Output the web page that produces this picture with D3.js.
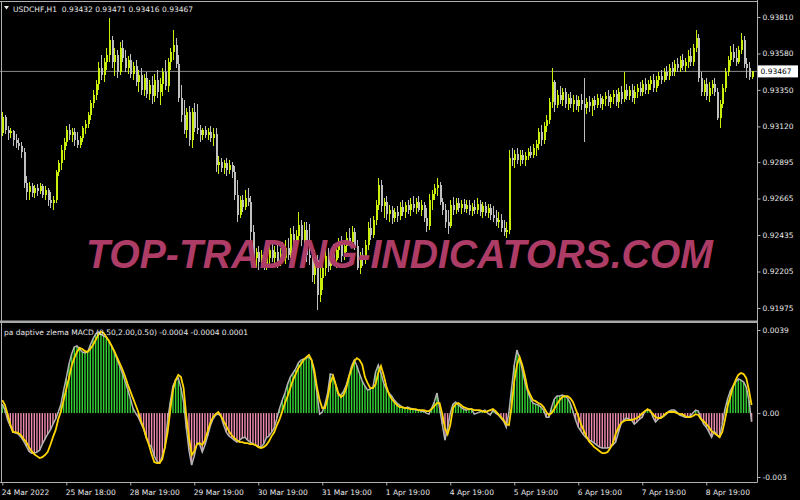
<!DOCTYPE html>
<html>
<head>
<meta charset="utf-8">
<script src="https://cdn.jsdelivr.net/npm/d3@7"></script>
<style>
html, body { margin: 0; padding: 0; background: #000; }
svg { display: block; }
text { font-family: "DejaVu Sans", sans-serif; }
</style>
</head>
<body>
<svg id="chart" width="800" height="500"></svg>
<script>
// USDCHF H1 candles, prices in points (price x 100000)
var opens = [
93078,93180,93097,93078,93091,93034,93015,92996,92958,92763,
92706,92744,92700,92732,92713,92744,92687,92719,92656,92637,
92656,92832,92889,92971,93021,93097,93065,93084,93034,93002,
93047,93110,93135,93192,93268,93318,93388,93489,93444,93526,
93570,93665,93526,93570,93463,93615,93552,93489,93539,93451,
93501,93400,93444,93350,93426,93325,93381,93312,93413,93337,
93388,93463,93375,93526,93589,93633,93514,93300,93192,93097,
93211,93034,93211,93110,93097,93065,93097,93065,93084,93047,
93072,92876,92895,92858,92889,92845,92876,92832,92687,92561,
92656,92612,92669,92643,92454,92290,92328,92265,92309,92252,
92290,92341,92290,92328,92265,92316,92290,92354,92309,92442,
92366,92429,92498,92404,92467,92309,92290,92183,92278,92057,
92164,92228,92303,92240,92316,92278,92341,92379,92303,92366,
92417,92391,92454,92366,92228,92309,92278,92372,92480,92435,
92530,92624,92750,92618,92643,92568,92593,92542,92580,92555,
92612,92580,92624,92593,92631,92606,92643,92593,92624,92542,
92492,92656,92694,92732,92750,92643,92593,92517,92492,92624,
92593,92637,92606,92631,92599,92624,92587,92612,92593,92631,
92580,92618,92574,92606,92561,92542,92517,92530,92480,92454,
92467,92921,92908,92946,92908,92939,92908,92933,92958,92939,
92984,93009,93084,93034,93122,93160,93274,93400,93255,93318,
93287,93337,93262,93300,93262,93287,93249,93287,93262,93237,
93274,93249,93287,93255,93300,93262,93293,93312,93274,93306,
93325,93274,93337,93293,93350,93312,93350,93300,93337,93362,
93337,93388,93350,93388,93413,93362,93413,93438,93413,93463,
93438,93489,93463,93514,93489,93539,93501,93526,93564,93526,
93615,93678,93426,93337,93388,93312,93362,93388,93337,93173,
93262,93362,93463,93539,93589,93552,93526,93602,93665,93514,
93489,93432];
var highs = [
93211,93192,93122,93110,93097,93072,93047,93021,92984,92807,
92769,92763,92750,92757,92763,92757,92744,92732,92706,92681,
92845,92908,93002,93047,93122,93135,93110,93110,93084,93059,
93122,93160,93211,93287,93350,93413,93526,93570,93552,93615,
93804,93690,93615,93602,93652,93665,93602,93564,93577,93526,
93539,93476,93489,93451,93463,93413,93438,93451,93476,93426,
93489,93539,93552,93615,93728,93678,93570,93381,93287,93237,
93249,93237,93268,93262,93129,93110,93122,93110,93122,93110,
93110,92933,92921,92908,92921,92908,92895,92870,92782,92681,
92687,92719,92732,92681,92498,92353,92366,92341,92353,92328,
92366,92379,92366,92372,92354,92391,92404,92417,92480,92492,
92467,92580,92530,92517,92517,92505,92372,92341,92309,92227,
92265,92341,92354,92341,92379,92366,92417,92429,92404,92454,
92480,92492,92480,92404,92328,92354,92404,92517,92542,92555,
92656,92795,92782,92669,92681,92624,92618,92606,92618,92643,
92656,92643,92656,92669,92681,92669,92681,92656,92643,92606,
92694,92719,92757,92795,92769,92669,92631,92593,92656,92675,
92669,92669,92656,92662,92656,92656,92637,92656,92669,92656,
92643,92643,92631,92631,92618,92593,92580,92568,92530,92517,
92971,92984,92971,92984,92971,92971,92958,92984,92996,93009,
93034,93110,93129,93147,93192,93300,93489,93413,93350,93375,
93362,93362,93325,93337,93318,93318,93312,93325,93426,93300,
93312,93300,93312,93325,93325,93312,93337,93350,93325,93350,
93350,93362,93375,93463,93388,93375,93388,93375,93388,93400,
93413,93426,93413,93438,93451,93438,93463,93476,93489,93501,
93514,93526,93539,93552,93564,93577,93552,93602,93615,93640,
93728,93703,93463,93413,93426,93400,93413,93426,93362,93287,
93388,93489,93564,93627,93640,93615,93627,93709,93690,93552,
93526,93471];
var lows = [
93059,93072,93034,93047,92996,92984,92971,92921,92732,92656,
92656,92675,92669,92681,92694,92669,92656,92618,92606,92593,
92637,92807,92845,92908,92996,93034,93021,92996,92984,92984,
93021,93072,93110,93160,93237,93287,93350,93413,93400,93476,
93526,93489,93438,93426,93444,93526,93463,93451,93426,93413,
93375,93337,93318,93312,93300,93287,93262,93274,93300,93255,
93312,93350,93337,93476,93539,93489,93274,93147,93072,93047,
92996,92984,93084,93072,93021,93034,93047,93034,93021,92996,
92832,92820,92832,92820,92807,92820,92795,92656,92517,92542,
92580,92593,92618,92404,92246,92227,92215,92227,92215,92215,
92240,92265,92253,92227,92240,92265,92253,92278,92290,92328,
92341,92404,92366,92354,92265,92246,92139,92127,91962,92013,
92089,92177,92202,92215,92253,92228,92290,92265,92278,92328,
92366,92354,92341,92215,92190,92240,92253,92341,92404,92417,
92498,92593,92580,92542,92530,92517,92505,92517,92517,92530,
92555,92542,92568,92555,92580,92568,92580,92555,92517,92454,
92467,92593,92656,92681,92624,92561,92480,92442,92480,92561,
92568,92580,92568,92580,92574,92561,92555,92568,92568,92555,
92542,92555,92542,92530,92517,92492,92480,92454,92429,92417,
92442,92870,92858,92883,92870,92883,92870,92908,92921,92921,
92933,92971,92996,93009,93084,93135,93237,93211,93237,93262,
93249,93237,93224,93237,93211,93224,93211,93224,93021,93199,
93211,93186,93224,93237,93237,93224,93249,93249,93237,93262,
93249,93237,93262,93274,93287,93287,93274,93262,93300,93312,
93312,93325,93325,93350,93337,93337,93375,93388,93400,93413,
93413,93438,93438,93463,93463,93476,93463,93489,93501,93501,
93589,93400,93312,93312,93287,93274,93325,93312,93160,93110,
93237,93337,93438,93501,93526,93501,93514,93577,93489,93426,
93413,93416];
var closes = [
93180,93097,93078,93091,93034,93015,92996,92958,92763,92706,
92744,92700,92732,92713,92744,92687,92719,92656,92637,92656,
92832,92889,92971,93021,93097,93065,93084,93034,93002,93047,
93110,93135,93192,93268,93318,93388,93489,93444,93526,93570,
93665,93526,93570,93463,93615,93552,93489,93539,93451,93501,
93400,93444,93350,93426,93325,93381,93312,93413,93337,93388,
93463,93375,93526,93589,93633,93514,93300,93192,93097,93211,
93034,93211,93110,93097,93065,93097,93065,93084,93047,93072,
92876,92895,92858,92889,92845,92876,92832,92687,92561,92656,
92612,92669,92643,92454,92290,92328,92265,92309,92252,92290,
92341,92290,92328,92265,92316,92290,92354,92309,92442,92366,
92429,92498,92404,92467,92309,92290,92183,92278,92057,92164,
92228,92303,92240,92316,92278,92341,92379,92303,92366,92417,
92391,92454,92366,92228,92309,92278,92372,92480,92435,92530,
92624,92750,92618,92643,92568,92593,92542,92580,92555,92612,
92580,92624,92593,92631,92606,92643,92593,92624,92542,92492,
92656,92694,92732,92750,92643,92593,92517,92492,92624,92593,
92637,92606,92631,92599,92624,92587,92612,92593,92631,92580,
92618,92574,92606,92561,92542,92517,92530,92480,92454,92467,
92921,92908,92946,92908,92939,92908,92933,92958,92939,92984,
93009,93084,93034,93122,93160,93274,93400,93255,93318,93287,
93337,93262,93300,93262,93287,93249,93287,93262,93237,93274,
93249,93287,93255,93300,93262,93293,93312,93274,93306,93325,
93274,93337,93293,93350,93312,93350,93300,93337,93362,93337,
93388,93350,93388,93413,93362,93413,93438,93413,93463,93438,
93489,93463,93514,93489,93539,93501,93526,93564,93526,93615,
93678,93426,93337,93388,93312,93362,93388,93337,93173,93262,
93362,93463,93539,93589,93552,93526,93602,93665,93514,93489,
93432,93467];

// adaptive zlema MACD, values x 0.0001
var macdMain = [
4.2,1.4,-3.3,-6.1,-8.9,-9.4,-9.9,-11.3,-13.2,-15.5,
-17.9,-18.8,-18.8,-18.3,-17.4,-14.6,-12.2,-9.9,-8.0,-5.2,
-2.8,0.5,4.2,10.8,16.5,23.0,27.7,31.0,31.5,30.1,
28.7,28.2,28.7,32.0,34.8,37.1,38.1,37.1,36.2,35.7,
33.8,31.5,28.7,25.4,22.1,18.8,15.0,11.3,7.0,2.3,
0.0,-1.9,-4.7,-7.5,-11.7,-14.6,-16.0,-20.2,-22.6,-23.5,
-20.2,-16.0,-3.3,5.2,12.7,15.5,16.5,11.7,5.2,-7.0,
-17.4,-24.4,-20.2,-14.1,-14.6,-18.3,-15.0,-10.8,-6.1,-2.8,
-0.9,-0.5,-1.4,-5.6,-8.9,-10.8,-11.7,-12.7,-13.6,-12.7,
-11.7,-11.3,-12.7,-13.6,-14.6,-15.0,-15.5,-16.0,-14.6,-11.7,
-10.8,-8.9,-7.0,-2.3,2.3,6.1,9.4,13.6,16.9,18.8,
20.7,23.5,24.9,25.4,25.8,26.3,24.9,17.9,9.4,-0.5,
0.5,4.2,9.4,18.3,17.9,13.2,8.5,8.5,10.3,13.2,
17.4,22.1,24.9,22.1,18.3,15.0,12.7,10.8,11.3,12.2,
19.3,22.6,18.8,14.1,11.3,9.4,8.0,6.1,4.7,3.8,
2.8,2.3,2.8,2.3,1.9,1.4,1.4,0.9,0.9,0.0,
-0.5,2.3,5.2,9.4,2.3,-5.2,-12.7,-7.0,0.0,4.2,
5.2,3.8,2.8,1.9,1.4,1.9,1.9,-0.5,0.0,0.5,
0.9,1.4,0.0,-0.9,1.4,0.0,-0.9,-2.3,-3.8,-6.6,
0.5,11.7,22.6,29.6,25.8,20.2,14.6,10.3,7.0,4.7,
4.2,3.8,2.8,1.4,-1.9,-1.9,2.8,6.6,8.0,8.0,
8.5,8.0,7.0,4.7,0.9,-3.3,-6.6,-8.5,-10.3,-11.7,
-12.7,-13.2,-14.1,-15.0,-16.0,-16.4,-16.4,-16.4,-16.0,-15.0,
-13.6,-9.4,-5.2,-3.3,-2.3,-2.8,-3.3,-5.2,-4.2,-2.8,
-1.9,0.9,1.4,1.4,-1.9,-4.2,-2.8,-1.9,-1.4,-0.5,
0.9,1.4,1.4,0.5,-0.9,-1.4,-1.9,-1.9,-1.4,0.0,
1.4,0.9,-2.3,-5.2,-6.6,-8.9,-11.3,-8.5,-10.3,-11.3,
-5.2,1.9,6.6,10.3,12.7,14.6,16.0,15.5,14.6,12.2,
6.1,-4.0];
var macdSignal = [
6.1,3.8,-0.5,-5.2,-8.9,-8.9,-9.4,-10.3,-12.2,-13.6,
-16.0,-17.9,-19.3,-20.2,-21.1,-20.7,-19.7,-18.3,-15.0,-11.3,
-8.0,-2.8,0.9,6.1,11.3,16.5,22.1,25.8,28.7,30.6,
30.1,29.1,28.7,30.1,32.0,34.3,36.7,38.1,37.6,35.7,
33.8,31.5,29.1,26.3,23.5,20.7,17.4,13.6,10.3,7.0,
3.8,0.5,-3.8,-7.0,-11.3,-15.0,-19.3,-23.0,-23.5,-23.5,
-21.6,-16.0,-8.9,1.4,10.8,15.5,17.9,16.9,11.7,-1.4,
-11.3,-19.7,-17.9,-14.6,-14.1,-15.0,-12.7,-8.5,-4.7,-1.9,
-0.5,0.5,-1.4,-3.8,-6.1,-8.5,-10.3,-11.7,-12.7,-13.6,
-13.6,-14.1,-14.1,-14.6,-14.6,-15.0,-16.0,-16.4,-16.0,-15.0,
-13.2,-10.8,-8.9,-5.6,-2.8,0.9,4.7,8.0,11.7,15.5,
18.3,21.1,23.0,24.9,26.3,27.3,24.9,20.2,12.2,6.1,
2.3,2.3,7.0,14.1,17.4,13.6,9.4,7.5,8.5,11.7,
16.9,20.7,24.4,25.8,24.9,22.6,16.9,14.1,11.7,11.7,
13.6,18.8,22.1,17.9,12.7,8.9,6.6,5.2,3.8,2.8,
2.8,2.3,2.3,1.9,1.9,1.9,1.4,1.4,1.4,0.9,
0.9,1.9,3.3,4.7,4.7,-0.5,-7.0,-9.9,-5.6,2.3,
4.2,4.7,3.8,2.8,2.3,1.9,1.9,1.4,1.4,1.4,
0.9,0.5,0.9,1.4,1.9,0.9,-0.5,-1.9,-3.3,-5.2,
-5.6,3.3,15.0,22.6,26.3,22.6,17.4,11.3,8.5,6.1,
5.6,4.7,4.2,2.8,0.5,-0.9,0.0,1.9,4.2,6.1,
7.5,8.0,8.0,7.0,5.2,1.9,-1.4,-5.2,-8.0,-10.8,
-13.2,-14.6,-16.0,-16.9,-17.9,-18.8,-18.8,-18.3,-16.4,-14.1,
-9.9,-7.0,-4.7,-3.8,-3.3,-3.3,-3.3,-2.8,-2.3,-1.4,
0.0,0.9,1.9,0.9,-0.5,-1.9,-2.3,-2.3,-1.4,0.0,
0.5,0.5,0.5,0.0,-0.5,-0.5,-1.4,-1.9,-1.9,-1.4,
-0.5,-0.9,-2.8,-3.8,-5.2,-6.6,-8.5,-9.4,-10.3,-11.3,
-8.9,-3.3,3.3,7.5,12.2,15.5,17.9,18.8,18.3,16.4,
10.8,3.8];

var priceTicks = [93810, 93580, 93350, 93120, 92895, 92665, 92435, 92205, 91975];
var timeTickBars = [0, 24, 48, 72, 96, 120, 144, 168, 192, 216, 240, 264];
var timeTickLabels = ["24 Mar 2022", "25 Mar 18:00", "28 Mar 19:00", "29 Mar 19:00", "30 Mar 19:00",
  "31 Mar 19:00", "1 Apr 19:00", "4 Apr 19:00", "5 Apr 19:00", "6 Apr 19:00", "7 Apr 19:00", "8 Apr 19:00"];
var macdTicks = [39, 0, -30];
var macdTickLabels = ["0.0039", "0.00", "-0.003"];
var symbolName = "USDCHF,H1";
var macdTitle = "pa daptive zlema MACD (0.50,2.00,0.50) -0.0004 -0.0004 0.0001";
var watermark = "TOP-TRADING-INDICATORS.COM";

var bullColor = "#c8f00a", bearColor = "#c0c0c0";
var histUp = "#34d234", histDown = "#f08cb0";
var mainColor = "#b4b4b4", signalColor = "#ffd500";
var frameColor = "#b0b0b0", textColor = "#e8e8e8";
var axisX = 757.5, bottomY = 482.5;

var N = closes.length;
var idx = d3.range(N);
var fmtPrice = function(p) { return (p / 100000).toFixed(5); };

var svg = d3.select("#chart");
svg.append("rect").attr("width", 800).attr("height", 500).attr("fill", "#000");

var x = d3.scaleLinear().domain([0, N - 1]).range([2.3, 751.6]);
var y = d3.scaleLinear().domain([91975, 93810]).range([308, 17]);
var ym = d3.scaleLinear().domain([-30, 39]).range([477, 330]);

var defs = svg.append("defs");
defs.append("clipPath").attr("id", "clipMain").append("rect")
  .attr("x", 2).attr("y", 2).attr("width", axisX - 2).attr("height", 318);
defs.append("clipPath").attr("id", "clipMacd").append("rect")
  .attr("x", 2).attr("y", 324).attr("width", axisX - 2).attr("height", bottomY - 324);

// current price line
svg.append("line")
  .attr("x1", 0).attr("x2", axisX)
  .attr("y1", y(closes[N - 1])).attr("y2", y(closes[N - 1]))
  .attr("stroke", "#8a8a8a").attr("stroke-width", 1);

// candles
var candles = svg.append("g").attr("clip-path", "url(#clipMain)").attr("shape-rendering", "crispEdges");
var isBull = function(i) { return closes[i] >= opens[i]; };
candles.selectAll("line.wick").data(idx).enter().append("line")
  .attr("class", "wick")
  .attr("x1", function(i) { return Math.round(x(i)) + 0.5; })
  .attr("x2", function(i) { return Math.round(x(i)) + 0.5; })
  .attr("y1", function(i) { return y(highs[i]); })
  .attr("y2", function(i) { return y(lows[i]); })
  .attr("stroke", function(i) { return isBull(i) ? bullColor : bearColor; })
  .attr("stroke-width", 1);
candles.selectAll("rect.body").data(idx).enter().append("rect")
  .attr("class", "body")
  .attr("x", function(i) { return Math.round(x(i)); })
  .attr("width", 2)
  .attr("y", function(i) { return y(Math.max(opens[i], closes[i])); })
  .attr("height", function(i) { return Math.max(1, Math.abs(y(opens[i]) - y(closes[i]))); })
  .attr("fill", function(i) { return isBull(i) ? bullColor : bearColor; });

// macd histogram and lines
var macdG = svg.append("g").attr("clip-path", "url(#clipMacd)");
macdG.selectAll("rect.hist").data(idx).enter().append("rect")
  .attr("class", "hist")
  .attr("x", function(i) { return x(i) - 0.7; })
  .attr("width", 1.4)
  .attr("y", function(i) { return ym(Math.max(0, macdMain[i])); })
  .attr("height", function(i) { return Math.abs(ym(macdMain[i]) - ym(0)); })
  .attr("fill", function(i) { return macdMain[i] >= 0 ? histUp : histDown; });

var line = d3.line()
  .x(function(d, i) { return x(i); })
  .y(function(d) { return ym(d); });
macdG.append("path").datum(macdMain)
  .attr("d", line).attr("fill", "none")
  .attr("stroke", mainColor).attr("stroke-width", 1.5);
macdG.append("path").datum(macdSignal)
  .attr("d", line).attr("fill", "none")
  .attr("stroke", signalColor).attr("stroke-width", 1.8);

// watermark
svg.append("text")
  .attr("x", 86).attr("y", 268)
  .attr("textLength", 627).attr("lengthAdjust", "spacingAndGlyphs")
  .style("font-family", "'Liberation Sans', Arial, sans-serif")
  .style("font-weight", "bold").style("font-style", "italic")
  .style("font-size", "40px")
  .attr("fill", "#ad3c66")
  .text(watermark);

// frame
var frame = svg.append("g").attr("stroke", frameColor).attr("stroke-width", 1).attr("fill", "none");
frame.append("line").attr("x1", 0).attr("x2", axisX).attr("y1", 1.5).attr("y2", 1.5);
frame.append("line").attr("x1", 1.5).attr("x2", 1.5).attr("y1", 1.5).attr("y2", bottomY);
frame.append("line").attr("x1", axisX).attr("x2", axisX).attr("y1", 0).attr("y2", bottomY);
frame.append("line").attr("x1", 0).attr("x2", axisX).attr("y1", bottomY).attr("y2", bottomY);
svg.append("rect").attr("x", 0).attr("y", 320.5).attr("width", axisX).attr("height", 2.5).attr("fill", "#a8a8a8");

function styleAxis(g) {
  g.select(".domain").remove();
  g.selectAll(".tick line").attr("stroke", frameColor);
  g.selectAll(".tick text").attr("fill", textColor)
    .style("font-family", "'DejaVu Sans', sans-serif").style("font-size", "7.5px");
}

// price axis
svg.append("g")
  .attr("transform", "translate(" + axisX + ",0)")
  .call(d3.axisRight(y).tickValues(priceTicks).tickSize(3).tickPadding(2).tickFormat(fmtPrice))
  .call(styleAxis);

// macd axis
svg.append("g")
  .attr("transform", "translate(" + axisX + ",0)")
  .call(d3.axisRight(ym).tickValues(macdTicks).tickSize(3).tickPadding(2)
    .tickFormat(function(d, k) { return macdTickLabels[k]; }))
  .call(styleAxis);

// time axis
var tAxis = svg.append("g")
  .attr("transform", "translate(0," + bottomY + ")")
  .call(d3.axisBottom(x).tickValues(timeTickBars).tickSize(3).tickPadding(4)
    .tickFormat(function(d, k) { return timeTickLabels[k]; }))
  .call(styleAxis);
tAxis.selectAll(".tick text").attr("text-anchor", "start").attr("x", -1);

// current price label
var py = y(closes[N - 1]);
svg.append("rect").attr("x", axisX + 0.5).attr("y", py - 6).attr("width", 40).attr("height", 12).attr("fill", "#fff");
svg.append("text").attr("x", axisX + 3).attr("y", py + 3)
  .style("font-size", "7.5px").attr("fill", "#000")
  .text(fmtPrice(closes[N - 1]));

// header
svg.append("path").attr("d", "M4,6 L9,6 L6.5,9.5 Z").attr("fill", textColor);
svg.append("text").attr("x", 13).attr("y", 12)
  .style("font-size", "7.5px").attr("fill", textColor).attr("xml:space", "preserve")
  .text(symbolName + "  " + [opens[N - 1], highs[N - 1], lows[N - 1], closes[N - 1]].map(fmtPrice).join(" "));
svg.append("text").attr("x", 4).attr("y", 335)
  .style("font-size", "7.5px").attr("fill", textColor)
  .text(macdTitle);
</script>
</body>
</html>
